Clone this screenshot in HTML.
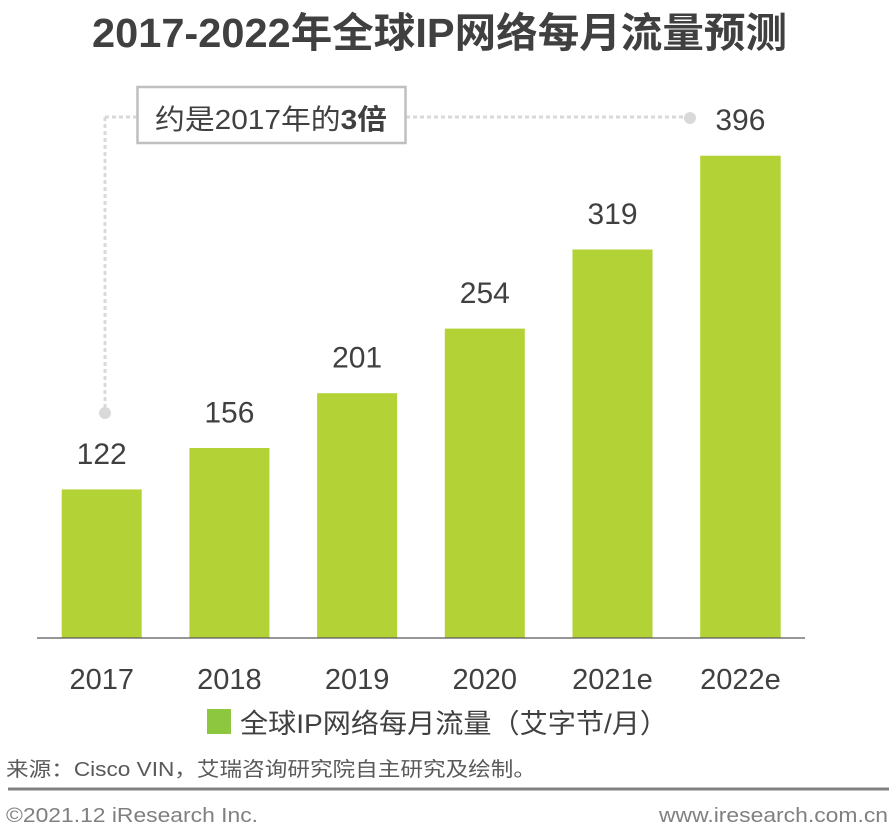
<!DOCTYPE html>
<html><head><meta charset="utf-8"><style>
html,body{margin:0;padding:0;background:#fff;}
svg{display:block;}
text{font-family:"Liberation Sans","Noto Sans CJK SC",sans-serif;}
</style></head><body>
<svg width="891" height="827" viewBox="0 0 891 827" xmlns="http://www.w3.org/2000/svg">
<rect width="891" height="827" fill="#fff"/>
<!-- Title -->
<text x="92" y="47" font-size="41" font-weight="bold" fill="#404040" textLength="695" lengthAdjust="spacingAndGlyphs">2017-2022年全球IP网络每月流量预测</text>

<!-- dotted annotation lines -->
<g stroke="#d9d9d9" stroke-width="3" stroke-dasharray="4,3" fill="none">
<line x1="105" y1="117" x2="137" y2="117"/>
<line x1="406" y1="117" x2="688" y2="117"/>
<line x1="105" y1="117" x2="105" y2="410"/>
</g>
<circle cx="690" cy="118" r="6" fill="#d9d9d9"/>
<circle cx="105" cy="413" r="6" fill="#d9d9d9"/>

<!-- annotation box -->
<rect x="137.5" y="87" width="268" height="56" fill="#fff" stroke="#bfbfbf" stroke-width="2.5"/>
<text x="155" y="129" font-size="28" fill="#404040" textLength="232" lengthAdjust="spacingAndGlyphs">约是2017年的<tspan font-weight="bold">3倍</tspan></text>

<!-- bars -->
<g fill="#b2d235">
<rect x="61.7" y="489.4" width="80" height="148.6"/>
<rect x="189.4" y="448" width="80" height="190"/>
<rect x="317.1" y="393.2" width="80" height="244.8"/>
<rect x="444.8" y="328.6" width="80" height="309.4"/>
<rect x="572.5" y="249.5" width="80" height="388.5"/>
<rect x="700.2" y="155.7" width="80.5" height="482.3"/>
</g>
<line x1="37" y1="638" x2="805" y2="638" stroke="#595959" stroke-width="1.3"/>

<!-- value labels -->
<g font-size="30" fill="#404040" text-anchor="middle">
<text x="101.7" y="464">122</text>
<text x="229.4" y="422.5">156</text>
<text x="357.1" y="367.7">201</text>
<text x="484.8" y="303.1">254</text>
<text x="612.5" y="224">319</text>
<text x="740.4" y="130.2">396</text>
</g>

<!-- x labels -->
<g font-size="29" fill="#404040" text-anchor="middle">
<text x="101.7" y="689">2017</text>
<text x="229.4" y="689">2018</text>
<text x="357.1" y="689">2019</text>
<text x="484.8" y="689">2020</text>
<text x="612.5" y="689">2021e</text>
<text x="740.4" y="689">2022e</text>
</g>

<!-- legend -->
<rect x="207" y="709" width="24" height="25" fill="#8dc63f"/>
<text x="240" y="733" font-size="27" fill="#404040" textLength="428" lengthAdjust="spacingAndGlyphs">全球IP网络每月流量（艾字节/月）</text>

<!-- source -->
<text x="6" y="776" font-size="20" fill="#595959" textLength="530" lengthAdjust="spacingAndGlyphs">来源：Cisco VIN，艾瑞咨询研究院自主研究及绘制。</text>

<!-- footer -->
<rect x="8" y="787.5" width="881" height="3" fill="#808080"/>
<text x="6" y="822" font-size="20" fill="#808080" textLength="252" lengthAdjust="spacingAndGlyphs">©2021.12 iResearch Inc.</text>
<text x="888" y="822" font-size="20" fill="#808080" text-anchor="end" textLength="229" lengthAdjust="spacingAndGlyphs">www.iresearch.com.cn</text>
</svg>
</body></html>
